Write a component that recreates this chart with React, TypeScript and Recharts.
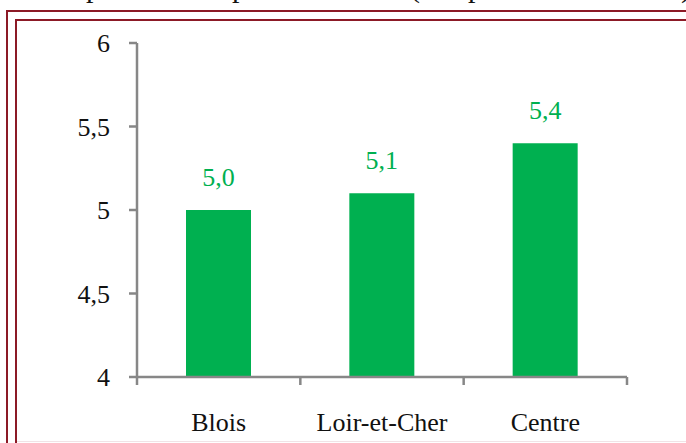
import React from 'react';
import { BarChart, Bar, XAxis, YAxis, LabelList } from 'recharts';

const territories = ['Blois', 'Loir-et-Cher', 'Centre'];
const values = [5.0, 5.1, 5.4];
const yTicks = [4, 4.5, 5, 5.5, 6];

const chartData = territories.map((name, i) => ({ name, value: values[i] }));

const FONT = '"Liberation Serif", "DejaVu Serif", serif';
const AXIS = '#878787';
const GREEN = '#00B050';
const FRAME = '#8c1a26';

const TICK_SIZE = 8;
const X_TICK_MARGIN = 28;

const frmt = (v: number) => v.toFixed(1).replace('.', ',');
const yFmt = (v: number) => String(v).replace('.', ',');

// category label centred in its band, with Excel-style tick marks on the band edges
function CategoryTick(props: any) {
    const { x, y, payload } = props;
    const half = payload?.offset ?? 0;
    const axisY = y - TICK_SIZE - X_TICK_MARGIN;
    return (
        <g>
            {payload.index === 0 && (
                <line x1={x - half} x2={x - half} y1={axisY} y2={axisY + TICK_SIZE} stroke={AXIS} strokeWidth={2.5} />
            )}
            <line x1={x + half} x2={x + half} y1={axisY} y2={axisY + TICK_SIZE} stroke={AXIS} strokeWidth={2.5} />
            <text x={x} y={y} dy="0.71em" textAnchor="middle" fill="#111" fontSize={26} fontFamily={FONT}>
                {payload.value}
            </text>
        </g>
    );
}

// caption line above the frame, mostly cut off by the top edge
const caption = [
    { text: 'Taux de la ', right: 686 - 86 },
    { text: 'part des ', left: 86 },
    { text: 'personnes ', left: 232 },
    { text: '(en ', left: 410 },
    { text: 'part du total', left: 468 },
    { text: ')', left: 681 },
];

export default function App() {
    return (
        <div style={{ position: 'absolute', left: 0, top: 0, width: 686, height: 443, overflow: 'hidden', background: '#fff' }}>
            {caption.map((c, i) => (
                <span
                    key={i}
                    style={{
                        position: 'absolute',
                        top: -28,
                        left: c.left,
                        right: c.right,
                        fontFamily: FONT,
                        fontSize: 30,
                        lineHeight: '30px',
                        color: '#111',
                        whiteSpace: 'pre',
                        textAlign: c.right !== undefined ? 'right' : 'left',
                    }}
                >
                    {c.text}
                </span>
            ))}

            <div style={{ position: 'absolute', left: 6, top: 10, width: 720, height: 480, borderTop: `2px solid ${FRAME}`, borderLeft: `2px solid ${FRAME}` }} />
            <div style={{ position: 'absolute', left: 15, top: 19, width: 720, height: 480, borderTop: `2px solid ${FRAME}`, borderLeft: `2px solid ${FRAME}` }} />
            <div style={{ position: 'absolute', left: 17, top: 441, width: 680, height: 1, background: '#f1e3e6' }} />

            <div style={{ position: 'absolute', left: 0, top: 0 }}>
                <BarChart
                    width={686}
                    height={443}
                    data={chartData}
                    margin={{ top: 43, right: 59, bottom: 26, left: 0 }}
                    barCategoryGap="30%"
                >
                    <XAxis
                        dataKey="name"
                        height={40}
                        tickLine={false}
                        tickSize={TICK_SIZE}
                        tickMargin={X_TICK_MARGIN}
                        axisLine={{ stroke: AXIS, strokeWidth: 2.5 }}
                        tick={<CategoryTick />}
                        interval={0}
                    />
                    <YAxis
                        width={137}
                        domain={[4, 6]}
                        ticks={yTicks}
                        tickFormatter={yFmt}
                        tickSize={TICK_SIZE}
                        tickMargin={19}
                        axisLine={{ stroke: AXIS, strokeWidth: 2.5 }}
                        tickLine={{ stroke: AXIS, strokeWidth: 2.5 }}
                        tick={{ fill: '#111', fontSize: 26, fontFamily: FONT }}
                        allowDataOverflow
                    />
                    <Bar dataKey="value" fill={GREEN} isAnimationActive={false}>
                        <LabelList
                            dataKey="value"
                            position="top"
                            offset={24}
                            formatter={(v: any) => frmt(Number(v))}
                            style={{ fill: GREEN, fontSize: 26, fontFamily: FONT }}
                        />
                    </Bar>
                </BarChart>
            </div>
        </div>
    );
}
